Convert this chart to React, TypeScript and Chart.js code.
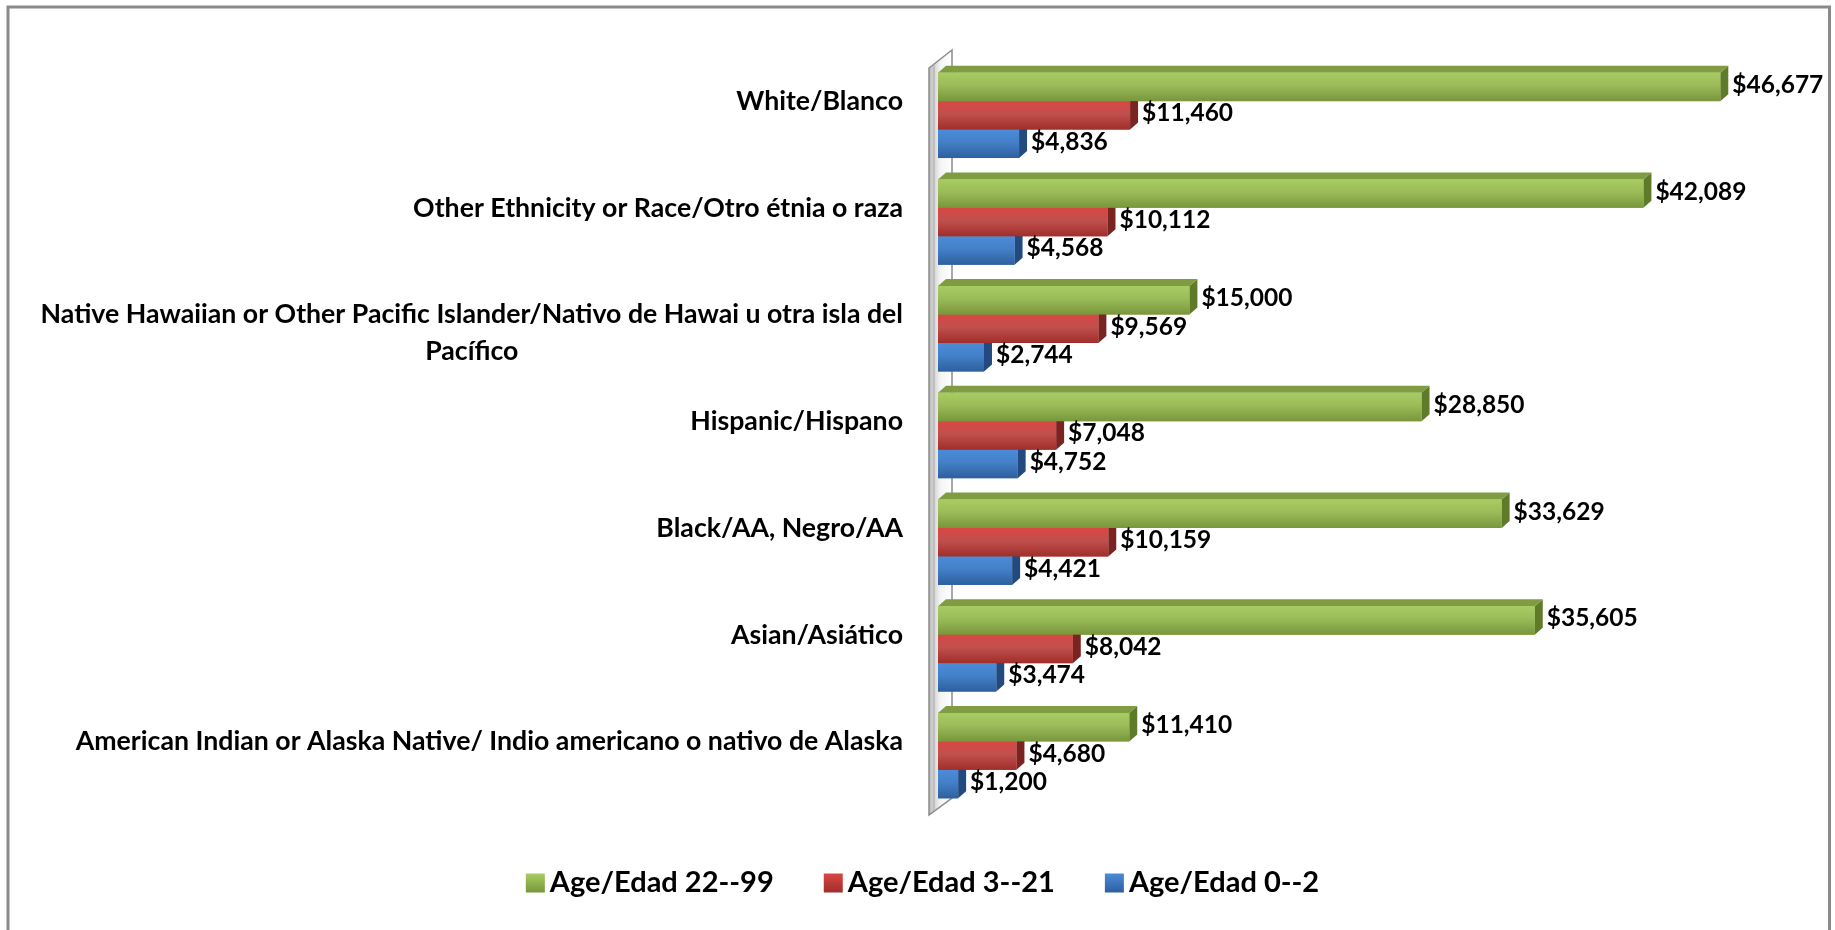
import React, { useEffect, useRef } from 'react';
import { Chart, registerables } from 'chart.js';

Chart.register(...registerables);

// ---- data ----
const categories: (string | string[])[] = [
  'White/Blanco',
  'Other Ethnicity or Race/Otro étnia o raza',
  ['Native Hawaiian or Other Pacific Islander/Nativo de Hawai u otra isla del', 'Pacífico'],
  'Hispanic/Hispano',
  'Black/AA, Negro/AA',
  'Asian/Asiático',
  'American Indian or Alaska Native/ Indio americano o nativo de Alaska',
];
const seriesNames = ['Age/Edad 22--99', 'Age/Edad 3--21', 'Age/Edad 0--2'];
const age22to99 = [46677, 42089, 15000, 28850, 33629, 35605, 11410];
const age3to21 = [11460, 10112, 9569, 7048, 10159, 8042, 4680];
const age0to2 = [4836, 4568, 2744, 4752, 4421, 3474, 1200];
const xAxisMax = 50000;

// ---- styles ----
const FONT = 'Lato, "Open Sans", sans-serif';
const palette = [
  { solid: '#9bbb59', top: '#7f9d40', side: '#5f7b2a', grad: ['#a8cc62', '#9bbb59', '#78963b'] },
  { solid: '#c0504d', top: '#a83a36', side: '#7a2421', grad: ['#d94744', '#c0504d', '#a02e2b'] },
  { solid: '#4f81bd', top: '#3a6aa8', side: '#234a7e', grad: ['#4b8bd8', '#4380c8', '#2e5f9e'] },
];
const DX = 8;
const DY = -7;

const fmt = (v: number) => '$' + v.toLocaleString('en-US');

const decorPlugin = {
  id: 'decor',
  beforeDatasetsDraw(chart: any) {
    const { ctx, chartArea } = chart;
    // frame
    ctx.save();
    ctx.strokeStyle = '#8a8a8a';
    ctx.lineWidth = 3;
    ctx.strokeRect(8, 7, 1821.5, 1000);
    ctx.restore();
    // 3D wall
    const fx = chartArea.left - 9;
    const ft = chartArea.top + 6;
    const fb = chartArea.bottom + 6;
    const bx = fx + 23;
    const bt = ft - 18;
    const bb = fb - 17;
    ctx.save();
    const g = ctx.createLinearGradient(fx, 0, bx, 0);
    g.addColorStop(0, '#bdbdbd');
    g.addColorStop(0.5, '#f4f4f4');
    g.addColorStop(1, '#ffffff');
    ctx.beginPath();
    ctx.moveTo(fx, ft);
    ctx.lineTo(bx, bt);
    ctx.lineTo(bx, bb);
    ctx.lineTo(fx, fb);
    ctx.closePath();
    ctx.fillStyle = g;
    ctx.fill();
    ctx.strokeStyle = '#8c8c8c';
    ctx.lineWidth = 1.5;
    ctx.stroke();
    ctx.beginPath();
    ctx.moveTo(fx + 5, ft - 4);
    ctx.lineTo(fx + 5, fb - 4);
    ctx.strokeStyle = '#a8a8a8';
    ctx.lineWidth = 1;
    ctx.stroke();
    ctx.restore();
  },
  afterDatasetsDraw(chart: any) {
    const { ctx } = chart;
    const n = chart.data.datasets.length;
    ctx.save();
    for (let i = 0; i < categories.length; i++) {
      for (let di = n - 1; di >= 0; di--) {
        const meta = chart.getDatasetMeta(di);
        const el = meta.data[i];
        if (!el) continue;
        const p = el.getProps(['x', 'y', 'base', 'height'], true);
        const x0 = p.base;
        const x1 = p.x;
        const t = p.y - p.height / 2;
        const b = p.y + p.height / 2;
        const c = palette[di];
        // side face
        ctx.beginPath();
        ctx.moveTo(x1, t);
        ctx.lineTo(x1 + DX, t + DY);
        ctx.lineTo(x1 + DX, b + DY);
        ctx.lineTo(x1, b);
        ctx.closePath();
        ctx.fillStyle = c.side;
        ctx.fill();
        // top face
        ctx.beginPath();
        ctx.moveTo(x0, t);
        ctx.lineTo(x1, t);
        ctx.lineTo(x1 + DX, t + DY);
        ctx.lineTo(x0 + DX, t + DY);
        ctx.closePath();
        ctx.fillStyle = c.top;
        ctx.fill();
        // front face
        const fg = ctx.createLinearGradient(0, t, 0, b);
        fg.addColorStop(0, c.grad[0]);
        fg.addColorStop(0.45, c.grad[1]);
        fg.addColorStop(1, c.grad[2]);
        ctx.fillStyle = fg;
        ctx.fillRect(x0, t, x1 - x0, b - t);
      }
    }
    // value labels
    ctx.fillStyle = '#000';
    ctx.font = `bold 24.5px ${FONT}`;
    ctx.textAlign = 'left';
    ctx.textBaseline = 'middle';
    for (let di = 0; di < n; di++) {
      const meta = chart.getDatasetMeta(di);
      const vals = chart.data.datasets[di].data as number[];
      meta.data.forEach((el: any, i: number) => {
        const p = el.getProps(['x', 'y'], true);
        ctx.fillText(fmt(vals[i]), p.x + DX + 4, p.y - 2);
      });
    }
    ctx.restore();
  },
  afterDraw(chart: any) {
    const { ctx } = chart;
    const yScale = chart.scales.y;
    ctx.save();
    // category labels
    ctx.fillStyle = '#000';
    ctx.font = `bold 26.7px ${FONT}`;
    ctx.textBaseline = 'middle';
    ctx.textAlign = 'center';
    const right = 903;
    categories.forEach((lab, i) => {
      const lines = Array.isArray(lab) ? lab : [lab];
      const w = Math.max(...lines.map((l) => ctx.measureText(l).width));
      const cx = right - w / 2;
      const yc = yScale.getPixelForValue(i) - 14;
      lines.forEach((l, k) => ctx.fillText(l, cx, yc + k * 37));
    });
    // legend
    ctx.font = `bold 29px ${FONT}`;
    ctx.textAlign = 'left';
    const box = 19;
    const gapBox = 5;
    const gapItem = 50;
    const widths = seriesNames.map((s) => box + gapBox + ctx.measureText(s).width);
    const total = widths.reduce((a, b) => a + b, 0) + gapItem * (seriesNames.length - 1);
    let x = chart.width / 2 + 5 - total / 2;
    const ly = 883;
    seriesNames.forEach((s, k) => {
      const c = palette[k];
      const bg = ctx.createLinearGradient(0, ly - box / 2, 0, ly + box / 2);
      bg.addColorStop(0, c.grad[0]);
      bg.addColorStop(1, c.grad[2]);
      ctx.fillStyle = bg;
      ctx.fillRect(x, ly - box / 2, box, box);
      ctx.fillStyle = '#000';
      ctx.fillText(s, x + box + gapBox, ly);
      x += widths[k] + gapItem;
    });
    ctx.restore();
  },
};

export default function App() {
  const ref = useRef<HTMLCanvasElement>(null);
  useEffect(() => {
    if (!ref.current) return;
    const series = [age22to99, age3to21, age0to2];
    const chart = new Chart(ref.current, {
      type: 'bar',
      data: {
        labels: categories,
        datasets: series.map((d, k) => ({
          label: seriesNames[k],
          data: d,
          backgroundColor: palette[k].solid,
          borderWidth: 0,
          categoryPercentage: 0.8,
          barPercentage: 1.0,
        })),
      },
      options: {
        indexAxis: 'y',
        animation: false,
        responsive: false,
        maintainAspectRatio: false,
        layout: { padding: { left: 938, top: 62, right: 59, bottom: 121 } },
        scales: {
          x: { display: false, min: 0, max: xAxisMax },
          y: { display: false },
        },
        plugins: {
          legend: { display: false },
          tooltip: { enabled: false },
        },
      },
      plugins: [decorPlugin],
    });
    return () => chart.destroy();
  }, []);
  return (
    <div style={{ position: 'fixed', left: 0, top: 0, width: 1835, height: 930, background: '#fff' }}>
      <canvas ref={ref} width={1835} height={930} style={{ display: 'block' }} />
    </div>
  );
}
